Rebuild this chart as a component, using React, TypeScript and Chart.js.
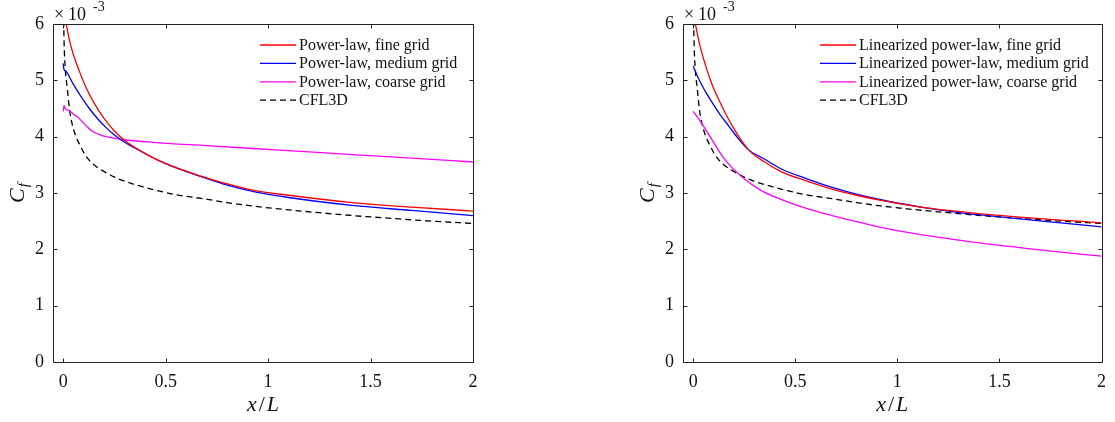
import React, { useEffect, useRef } from "react";
import { Chart, registerables } from "chart.js";
Chart.register(...registerables);

const SERIF = "'Liberation Serif', 'Times New Roman', serif";

const xTicks = [0, 0.5, 1, 1.5, 2];
const yTicks = [0, 1, 2, 3, 4, 5, 6];

// CFL3D reference (same in both panels)
const cflX = [0, 0.004, 0.01, 0.02, 0.03, 0.04, 0.06, 0.08, 0.11, 0.15, 0.2, 0.27, 0.35, 0.43, 0.55, 0.68, 0.8, 0.92, 1.1, 1.25, 1.41, 1.6, 1.8, 2.0];
const cflY = [6.6, 5.7, 5.2, 4.85, 4.5, 4.28, 4.02, 3.86, 3.66, 3.5, 3.38, 3.25, 3.15, 3.07, 2.97, 2.9, 2.83, 2.77, 2.7, 2.65, 2.6, 2.55, 2.5, 2.46];

// Left panel: power-law
const plFineX = [0.012, 0.03, 0.05, 0.08, 0.11, 0.15, 0.2, 0.25, 0.3, 0.4, 0.5, 0.68, 0.8, 0.924, 1.1, 1.41, 1.7, 2.0];
const plFineY = [6.05, 5.72, 5.45, 5.15, 4.88, 4.6, 4.32, 4.1, 3.93, 3.7, 3.52, 3.29, 3.16, 3.05, 2.96, 2.83, 2.75, 2.68];
const plMedX = [0.0, 0.003, 0.013, 0.046, 0.08, 0.127, 0.17, 0.209, 0.25, 0.3, 0.4, 0.5, 0.68, 0.8, 0.924, 1.1, 1.41, 1.7, 2.0];
const plMedY = [5.3, 5.2, 5.16, 4.95, 4.75, 4.5, 4.31, 4.16, 4.03, 3.9, 3.7, 3.52, 3.28, 3.14, 3.03, 2.92, 2.78, 2.69, 2.6];
const plCoarseX = [0.0, 0.004, 0.01, 0.03, 0.05, 0.078, 0.11, 0.14, 0.19, 0.24, 0.29, 0.435, 0.7, 0.924, 1.2, 1.41, 1.7, 2.0];
const plCoarseY = [4.45, 4.55, 4.5, 4.46, 4.4, 4.32, 4.2, 4.1, 4.02, 3.98, 3.95, 3.9, 3.84, 3.79, 3.73, 3.68, 3.62, 3.55];

// Right panel: linearized power-law
const lpFineX = [0.008, 0.03, 0.06, 0.09, 0.13, 0.19, 0.27, 0.35, 0.43, 0.55, 0.68, 0.8, 0.92, 1.1, 1.25, 1.41, 1.6, 1.8, 2.0];
const lpFineY = [6.05, 5.66, 5.27, 4.95, 4.62, 4.2, 3.77, 3.55, 3.38, 3.22, 3.07, 2.96, 2.87, 2.76, 2.69, 2.63, 2.57, 2.52, 2.47];
const lpMedX = [0.0, 0.03, 0.06, 0.094, 0.13, 0.176, 0.22, 0.27, 0.35, 0.43, 0.55, 0.68, 0.8, 0.92, 1.1, 1.25, 1.41, 1.6, 1.8, 2.0];
const lpMedY = [5.25, 5.0, 4.8, 4.6, 4.4, 4.18, 3.97, 3.77, 3.6, 3.43, 3.26, 3.1, 2.98, 2.88, 2.76, 2.68, 2.61, 2.54, 2.47, 2.4];
const lpCoarseX = [0.0, 0.03, 0.062, 0.1, 0.143, 0.19, 0.257, 0.33, 0.42, 0.55, 0.68, 0.8, 0.92, 1.1, 1.25, 1.41, 1.6, 1.8, 2.0];
const lpCoarseY = [4.45, 4.3, 4.12, 3.9, 3.65, 3.45, 3.23, 3.05, 2.9, 2.73, 2.6, 2.49, 2.39, 2.27, 2.19, 2.11, 2.03, 1.95, 1.88];

const leftLabels = ["Power-law, fine grid", "Power-law, medium grid", "Power-law, coarse grid", "CFL3D"];
const rightLabels = ["Linearized power-law, fine grid", "Linearized power-law, medium grid", "Linearized power-law, coarse grid", "CFL3D"];

const colors = ["#ff0000", "#0000ff", "#ff00ff", "#000000"];
const dashes: number[][] = [[], [], [], [6, 4]];

const pts = (xs: number[], ys: number[]) => xs.map((x, i) => ({ x, y: ys[i] }));

const decor = {
  id: "decor",
  afterDatasetsDraw(chart: any, _args: any, opts: any) {
    const ctx = chart.ctx;
    const a = chart.chartArea;
    const xs = chart.scales.x;
    const ys = chart.scales.y;
    ctx.save();
    ctx.strokeStyle = "#222";
    ctx.lineWidth = 1;
    ctx.setLineDash([]);
    const L = Math.round(a.left) + 0.5, T = Math.round(a.top) + 0.5;
    const R = Math.round(a.right) + 0.5, B = Math.round(a.bottom) + 0.5;
    ctx.beginPath();
    ctx.rect(L, T, R - L, B - T);
    const tl = 4;
    for (const v of xTicks) {
      const p = Math.round(xs.getPixelForValue(v)) + 0.5;
      ctx.moveTo(p, B); ctx.lineTo(p, B - tl);
      ctx.moveTo(p, T); ctx.lineTo(p, T + tl);
    }
    for (const v of yTicks) {
      const p = Math.round(ys.getPixelForValue(v)) + 0.5;
      ctx.moveTo(L, p); ctx.lineTo(L + tl, p);
      ctx.moveTo(R, p); ctx.lineTo(R - tl, p);
    }
    ctx.stroke();

    // legend
    const ds = chart.data.datasets;
    ctx.font = `16px ${SERIF}`;
    ctx.textBaseline = "middle";
    ctx.textAlign = "left";
    ds.forEach((d: any, i: number) => {
      const y = opts.legY + i * opts.legRow;
      ctx.beginPath();
      ctx.strokeStyle = d.borderColor;
      ctx.lineWidth = 1.3;
      ctx.setLineDash(d.borderDash || []);
      ctx.moveTo(opts.legX, y);
      ctx.lineTo(opts.legX + opts.legLen, y);
      ctx.stroke();
      ctx.setLineDash([]);
      ctx.fillStyle = "#111";
      ctx.fillText(d.label, opts.legX + opts.legLen + 3, y + 0.5);
    });

    // exponent
    ctx.fillStyle = "#111";
    ctx.textBaseline = "alphabetic";
    ctx.font = `18px ${SERIF}`;
    ctx.fillText("\u00d7", a.left + 1, 20);
    ctx.fillText("10", a.left + 15, 20);
    ctx.font = `14px ${SERIF}`;
    ctx.fillText("-3", a.left + 40, 11);

    // x title
    const cx = (a.left + a.right) / 2;
    ctx.font = `italic 22px ${SERIF}`;
    const w1 = ctx.measureText("x").width;
    ctx.font = `22px ${SERIF}`;
    const w2 = ctx.measureText("/").width;
    ctx.font = `italic 22px ${SERIF}`;
    const w3 = ctx.measureText("L").width;
    const tot = w1 + w2 + w3 + 4;
    let xx = cx - tot / 2;
    const by = 411;
    ctx.fillText("x", xx, by); xx += w1 + 2;
    ctx.font = `22px ${SERIF}`;
    ctx.fillText("/", xx, by); xx += w2 + 2;
    ctx.font = `italic 22px ${SERIF}`;
    ctx.fillText("L", xx, by);

    // y title
    const cy = (a.top + a.bottom) / 2;
    ctx.translate(opts.yTitleX, cy);
    ctx.rotate(-Math.PI / 2);
    ctx.font = `italic 22px ${SERIF}`;
    const wc = ctx.measureText("C").width;
    ctx.font = `italic 15px ${SERIF}`;
    const wf = ctx.measureText("f").width;
    const sx = -(wc + wf + 1) / 2;
    ctx.font = `italic 22px ${SERIF}`;
    ctx.fillText("C", sx, 7);
    ctx.font = `italic 15px ${SERIF}`;
    ctx.fillText("f", sx + wc + 1, 11);
    ctx.restore();
  },
};

function Panel(props: {
  left: number; width: number; padRight: number; labels: string[];
  series: { x: number[]; y: number[] }[]; legX: number;
}) {
  const ref = useRef<HTMLCanvasElement>(null);
  useEffect(() => {
    const cv = ref.current;
    if (!cv) return;
    const chart = new Chart(cv, {
      type: "line",
      data: {
        datasets: props.series.map((s, i) => ({
          label: props.labels[i],
          data: pts(s.x, s.y),
          borderColor: colors[i],
          backgroundColor: colors[i],
          borderWidth: 1.3,
          borderDash: dashes[i],
          pointRadius: 0,
          fill: false,
          cubicInterpolationMode: "monotone" as const,
        })),
      },
      options: {
        responsive: false,
        animation: false,
        devicePixelRatio: 1,
        layout: { padding: { left: 0, top: 24, right: props.padRight, bottom: 0 } },
        plugins: {
          legend: { display: false },
          tooltip: { enabled: false },
          decor: { legX: props.legX, legY: 45, legRow: 18.4, legLen: 36, yTitleX: 17 },
        } as any,
        scales: {
          x: {
            type: "linear",
            min: -0.05,
            max: 2,
            grid: { display: false, drawTicks: false },
            border: { display: false },
            afterBuildTicks: (s: any) => { s.ticks = xTicks.map((v) => ({ value: v })); },
            afterFit: (s: any) => { s.height = 60; },
            ticks: {
              padding: 9,
              color: "#111",
              font: { family: SERIF, size: 18 },
              maxRotation: 0,
              autoSkip: false,
              callback: (v: any) => String(v),
            },
          },
          y: {
            type: "linear",
            min: 0,
            max: 6,
            grid: { display: false, drawTicks: false },
            border: { display: false },
            afterBuildTicks: (s: any) => { s.ticks = yTicks.map((v) => ({ value: v })); },
            afterFit: (s: any) => { s.width = 53; },
            ticks: {
              padding: 9,
              color: "#111",
              font: { family: SERIF, size: 18 },
              callback: (v: any) => String(v),
            },
          },
        },
      },
      plugins: [decor],
    });
    return () => chart.destroy();
  }, []);
  return (
    <canvas
      ref={ref}
      width={props.width}
      height={422}
      style={{ position: "absolute", left: props.left, top: 0, width: props.width, height: 422 }}
    />
  );
}

export default function App() {
  return (
    <div style={{ position: "absolute", left: 0, top: 0, width: 1115, height: 422, background: "#fff", overflow: "hidden" }}>
      <Panel
        left={0}
        width={557}
        padRight={84}
        labels={leftLabels}
        legX={260}
        series={[
          { x: plFineX, y: plFineY },
          { x: plMedX, y: plMedY },
          { x: plCoarseX, y: plCoarseY },
          { x: cflX, y: cflY },
        ]}
      />
      <Panel
        left={630}
        width={485}
        padRight={11}
        labels={rightLabels}
        legX={190}
        series={[
          { x: lpFineX, y: lpFineY },
          { x: lpMedX, y: lpMedY },
          { x: lpCoarseX, y: lpCoarseY },
          { x: cflX, y: cflY },
        ]}
      />
    </div>
  );
}
